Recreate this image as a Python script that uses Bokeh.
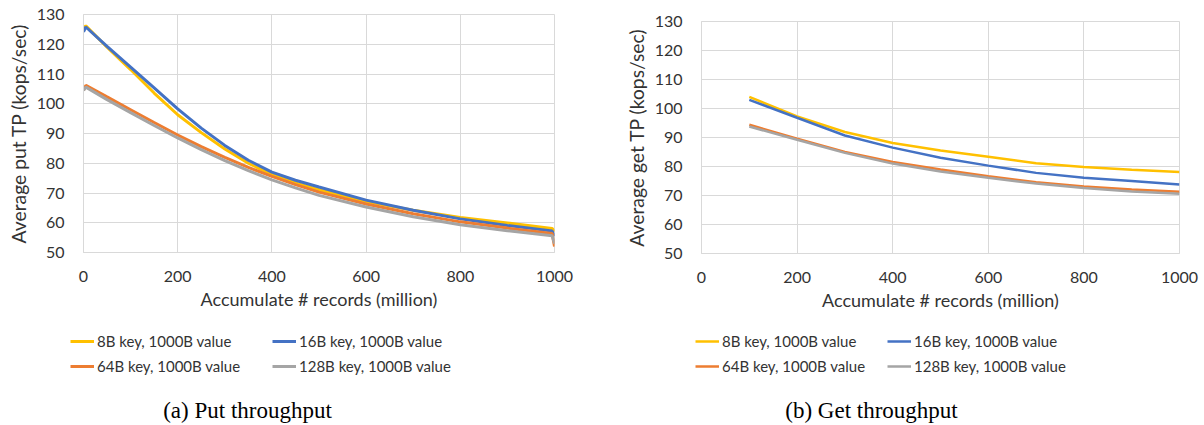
from bokeh.plotting import figure
from bokeh.layouts import row, column
from bokeh.models import Range1d, FixedTicker, Legend, LegendItem, Label
from bokeh.embed import file_html
from bokeh.resources import INLINE

# ---------------- data ----------------
series_names = ["8B key, 1000B value", "16B key, 1000B value",
                "64B key, 1000B value", "128B key, 1000B value"]
colors = ["#FFC000", "#4472C4", "#ED7D31", "#A5A5A5"]

# (a) Put throughput (kops/sec) vs accumulated records (million)
put_x = [0, 5, 50, 100, 150, 200, 250, 300, 350, 400, 450, 500, 600, 700, 800, 900, 995, 1000]
put_8b = [125.5, 126.2, 119.0, 111.5, 103.6, 96.3, 90.3, 84.8, 80.0, 76.2, 73.4, 71.1,
          67.1, 64.2, 61.8, 59.9, 58.1, 57.0]
put_16b = [124.2, 125.8, 119.3, 112.3, 105.3, 98.3, 91.8, 86.0, 81.0, 77.0, 74.3, 72.0,
           67.6, 64.2, 61.3, 59.1, 57.2, 55.5]
put_64b = [104.5, 106.2, 102.3, 98.0, 93.7, 89.5, 85.6, 82.0, 78.6, 75.6, 72.8, 70.3,
           66.3, 63.0, 60.3, 58.2, 56.4, 52.0]
put_128b = [104.5, 105.6, 101.4, 97.0, 92.7, 88.5, 84.6, 80.9, 77.5, 74.4, 71.7, 69.2,
            65.3, 62.0, 59.3, 57.3, 55.6, 53.0]

# (b) Get throughput
get_x = [100, 200, 300, 400, 500, 600, 700, 800, 900, 1000]
get_8b = [104.0, 97.3, 91.9, 88.1, 85.5, 83.4, 81.1, 79.8, 78.9, 78.1]
get_16b = [103.0, 96.8, 90.7, 86.5, 83.0, 80.3, 77.8, 76.1, 75.0, 73.8]
get_64b = [94.4, 89.6, 85.0, 81.6, 79.0, 76.6, 74.6, 73.1, 72.1, 71.3]
get_128b = [93.8, 89.2, 84.7, 81.0, 78.3, 76.1, 74.1, 72.6, 71.4, 70.6]

x_ticks = [0, 200, 400, 600, 800, 1000]
y_ticks = [50, 60, 70, 80, 90, 100, 110, 120, 130]

x_label = "Accumulate # records (million)"
put_ylabel = "Average put TP (kops/sec)"
get_ylabel = "Average get TP (kops/sec)"
put_caption = "(a) Put throughput"
get_caption = "(b) Get throughput"

FONT = "Lato"
TXT = "#333333"
GRID = "#D9D9D9"
W = 602
CHART_H = 325
HELP_H = 100


def make_chart(xs, ys_list, ylabel, bl, br, bt, bb, lw):
    p = figure(width=W, height=CHART_H, output_backend="svg", toolbar_location=None,
               x_range=Range1d(0, 1000), y_range=Range1d(50, 130),
               min_border_left=bl, min_border_right=br,
               min_border_top=bt, min_border_bottom=bb)
    p.outline_line_color = GRID
    for ax in (p.xaxis[0], p.yaxis[0]):
        ax.axis_line_color = GRID
        ax.major_tick_line_color = None
        ax.minor_tick_line_color = None
        ax.major_tick_out = 0
        ax.major_tick_in = 0
        ax.minor_tick_out = 0
        ax.minor_tick_in = 0
        ax.major_label_text_font = FONT
        ax.major_label_text_font_size = "16px"
        ax.major_label_text_color = TXT
        ax.axis_label_text_font = FONT
        ax.axis_label_text_font_style = "normal"
        ax.axis_label_text_color = TXT
    p.xaxis.axis_label_text_font_size = "18px"
    p.yaxis.axis_label_text_font_size = "19.3px"
    p.xaxis.ticker = FixedTicker(ticks=x_ticks)
    p.yaxis.ticker = FixedTicker(ticks=y_ticks)
    p.xaxis.axis_label = x_label
    p.yaxis.axis_label = ylabel
    p.xaxis.major_label_standoff = 18
    p.xaxis.axis_label_standoff = 3
    p.yaxis.major_label_standoff = 19
    p.yaxis.axis_label_standoff = 4
    p.xgrid.ticker = FixedTicker(ticks=x_ticks)
    p.ygrid.ticker = FixedTicker(ticks=y_ticks)
    p.xgrid.grid_line_color = GRID
    p.ygrid.grid_line_color = GRID
    for ys, c in zip(ys_list, colors):
        p.line(xs, ys, line_color=c, line_width=lw)
    return p


def make_helper(xs, ys_list, caption, lw, leg1, leg2, cap_xy):
    # legend + caption strip below each chart; its sample lines sit outside its view
    h = figure(width=W, height=HELP_H, output_backend="svg", toolbar_location=None,
               x_range=Range1d(-3000, -2000), y_range=Range1d(50, 130),
               x_axis_type=None, y_axis_type=None, min_border=0)
    h.outline_line_color = None
    h.xgrid.visible = False
    h.ygrid.visible = False
    rends = [h.line(xs, ys, line_color=c, line_width=lw) for ys, c in zip(ys_list, colors)]
    items = [LegendItem(label=n, renderers=[r]) for n, r in zip(series_names, rends)]
    for idxs, loc in (((0, 2), leg1), ((1, 3), leg2)):
        lg = Legend(items=[items[i] for i in idxs], location=loc,
                    label_text_font=FONT, label_text_font_size="15px",
                    label_text_color=TXT, glyph_width=24, glyph_height=20,
                    label_height=20, label_standoff=3, spacing=5,
                    padding=0, margin=0, border_line_alpha=0,
                    background_fill_alpha=0)
        h.add_layout(lg, "center")
    h.add_layout(Label(x=cap_xy[0], y=cap_xy[1], x_units="screen", y_units="screen",
                       text=caption, text_align="center", text_baseline="middle",
                       text_font="Liberation Serif", text_font_size="23px",
                       text_color="black"))
    return h


put_series = [put_8b, put_16b, put_64b, put_128b]
get_series = [get_8b, get_16b, get_64b, get_128b]

c1 = make_chart(put_x, put_series, put_ylabel, 83, 48, 14, CHART_H - 252, 3)
c2 = make_chart(get_x, get_series, get_ylabel, 99, 25, 21, CHART_H - 253, 2.5)
h1 = make_helper(put_x, put_series, put_caption, 3, (70, 49), (272, 49), (247, 15.5))
h2 = make_helper(get_x, get_series, get_caption, 2.5, (93, 49), (285, 49), (269, 15.5))

# each chart wrapped on its own so the two frames keep their own borders
layout = column(row(column(c1), column(c2)), row(h1, h2))
open("out.html", "w").write(file_html(layout, INLINE))
